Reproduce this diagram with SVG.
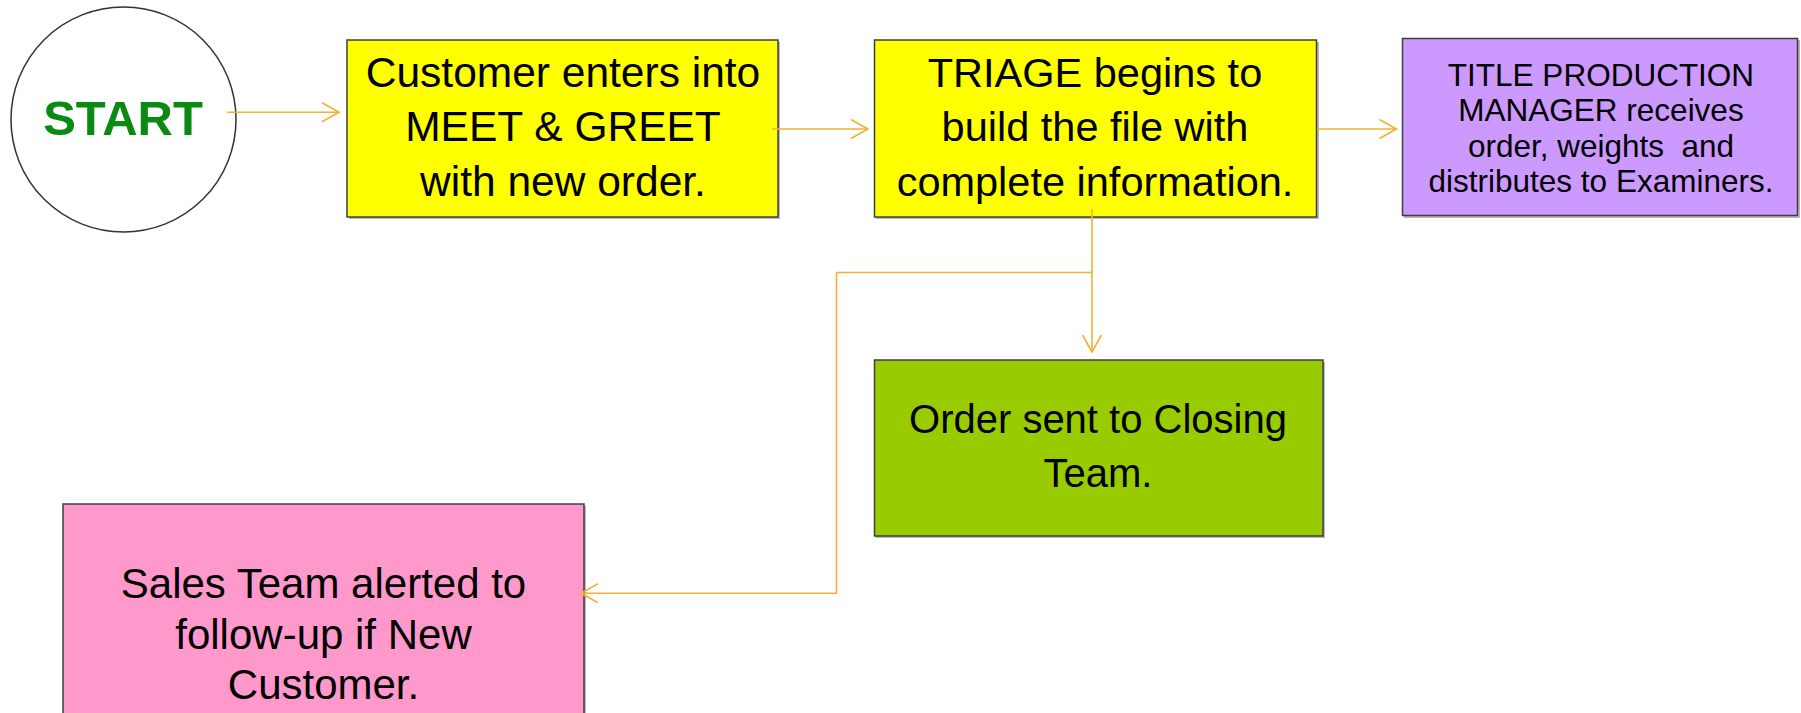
<svg xmlns="http://www.w3.org/2000/svg" width="1801" height="713" viewBox="0 0 1801 713">
<style>
  .box { stroke: #3f3f3f; stroke-width: 1.5; }
  .shadow { fill: #b8b8b8; }
  .lbl { font-family: "Liberation Sans", Arial, sans-serif; fill: #000; text-anchor: middle; }
  .conn { fill: none; stroke: #F2B134; stroke-width: 1.6; }
</style>
<defs>
  <marker id="arr" markerUnits="userSpaceOnUse" markerWidth="22" markerHeight="24" refX="18" refY="11" orient="auto">
    <path d="M1,1.5 L18,11 L1,20.5" fill="none" stroke="#F2B134" stroke-width="1.6"/>
  </marker>
</defs>

<rect width="1801" height="713" fill="#ffffff"/>

<g id="start">
  <ellipse cx="123.5" cy="119.5" rx="112.5" ry="112.5" fill="#ffffff" stroke="#333333" stroke-width="1.5"/>
  <text class="lbl" x="123" y="135" font-size="49" font-weight="bold" style="fill:#0a8a12">START</text>
</g>

<g id="meet-greet">
  <rect class="shadow" x="349" y="42" width="431" height="177"/>
  <rect class="box" x="347" y="40" width="431" height="177" fill="#FFFF00"/>
  <text class="lbl" font-size="42.5"><tspan x="563" y="86.5">Customer enters into</tspan><tspan x="563" y="141">MEET &amp; GREET</tspan><tspan x="563" y="195.5">with new order.</tspan></text>
</g>

<g id="triage">
  <rect class="shadow" x="876" y="42" width="443" height="177"/>
  <rect class="box" x="874.5" y="40" width="442" height="177" fill="#FFFF00"/>
  <text class="lbl" font-size="41.5"><tspan x="1095" y="86.5">TRIAGE begins to</tspan><tspan x="1095" y="141">build the file with</tspan><tspan x="1095" y="195.5">complete information.</tspan></text>
</g>

<g id="title-production">
  <rect class="shadow" x="1404" y="40" width="396" height="178"/>
  <rect class="box" x="1402.5" y="38.5" width="395" height="177" fill="#CC99FF"/>
  <text class="lbl" font-size="31.5" xml:space="preserve"><tspan x="1601" y="85.5">TITLE PRODUCTION</tspan><tspan x="1601" y="121">MANAGER receives</tspan><tspan x="1601" y="156.5">order, weights  and</tspan><tspan x="1601" y="192">distributes to Examiners.</tspan></text>
</g>

<g id="closing">
  <rect class="shadow" x="876" y="362" width="449" height="176"/>
  <rect class="box" x="874.5" y="360" width="448.5" height="176" fill="#99CC00"/>
  <text class="lbl" font-size="40"><tspan x="1098" y="433">Order sent to Closing</tspan><tspan x="1098" y="486.5">Team.</tspan></text>
</g>

<g id="sales">
  <rect class="shadow" x="65" y="506" width="521" height="220"/>
  <rect class="box" x="63" y="504" width="521" height="220" fill="#FF99CC"/>
  <text class="lbl" font-size="42"><tspan x="323.5" y="597.5">Sales Team alerted to</tspan><tspan x="323.5" y="649">follow-up if New</tspan><tspan x="323.5" y="699">Customer.</tspan></text>
</g>

<g id="connectors">
  <path class="conn" d="M227,112.3 L339,112.3" marker-end="url(#arr)"/>
  <path class="conn" d="M772,129 L868,129" marker-end="url(#arr)"/>
  <path class="conn" d="M1317,129 L1396.5,129" marker-end="url(#arr)"/>
  <path class="conn" d="M1092,209 L1092,352" marker-end="url(#arr)"/>
  <path class="conn" d="M1092,272.5 L836.5,272.5 L836.5,593.3 L581,593.3" marker-end="url(#arr)"/>
</g>
</svg>
